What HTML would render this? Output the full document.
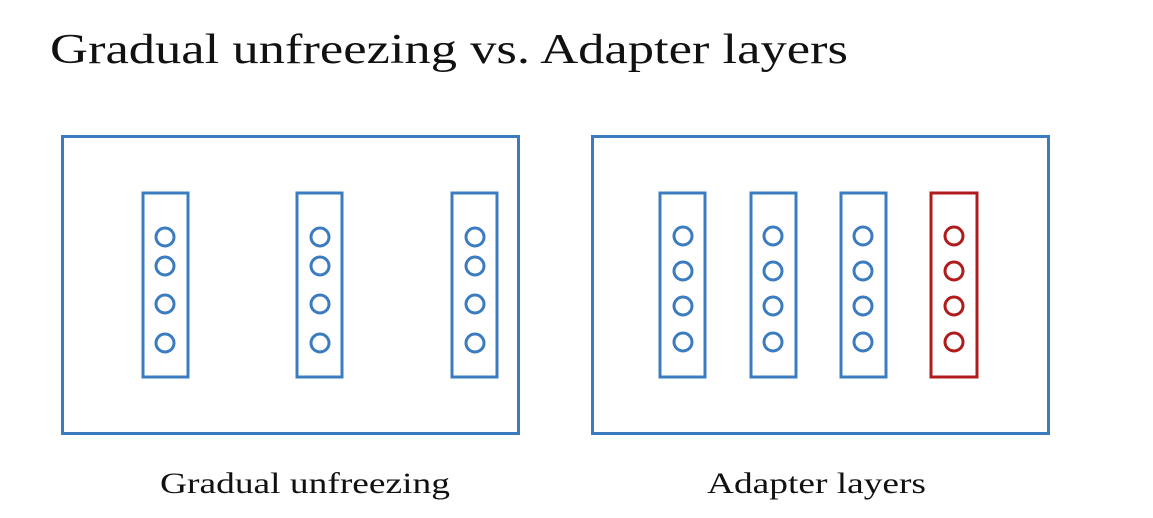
<!DOCTYPE html>
<html><head><style>
body{margin:0;background:#fff;}
svg text{font-family:"Liberation Serif",serif;fill:#111;}
</style></head><body>
<svg width="1153" height="513" xmlns="http://www.w3.org/2000/svg">
<text x="50" y="63" font-size="42" textLength="798" lengthAdjust="spacingAndGlyphs">Gradual unfreezing vs. Adapter layers</text>
<g fill="none" stroke="#3b7cc0" stroke-width="3">
<rect x="62.5" y="136.5" width="456" height="297"/>
<rect x="592.5" y="136.5" width="456" height="297"/>
<rect x="143" y="193" width="45" height="184"/>
<rect x="297" y="193" width="45" height="184"/>
<rect x="452" y="193" width="45" height="184"/>
<g id="c1"><circle cx="165" cy="237" r="9"/><circle cx="165" cy="266" r="9"/><circle cx="165" cy="304" r="9"/><circle cx="165" cy="343" r="9"/></g>
<use href="#c1" x="155"/><use href="#c1" x="310"/>
<rect x="660" y="193" width="45" height="184"/>
<rect x="751" y="193" width="45" height="184"/>
<rect x="841" y="193" width="45" height="184"/>
<g id="c2"><circle cx="683" cy="236" r="9"/><circle cx="683" cy="271" r="9"/><circle cx="683" cy="306" r="9"/><circle cx="683" cy="342" r="9"/></g>
<use href="#c2" x="90"/><use href="#c2" x="180"/>
</g>
<g fill="none" stroke="#b01c1c" stroke-width="3">
<rect x="931" y="193" width="46" height="184"/>
<use href="#c2" x="271"/>
</g>
<text x="160" y="493" font-size="30" textLength="290" lengthAdjust="spacingAndGlyphs">Gradual unfreezing</text>
<text x="707" y="493" font-size="30" textLength="219" lengthAdjust="spacingAndGlyphs">Adapter layers</text>
</svg>
</body></html>
